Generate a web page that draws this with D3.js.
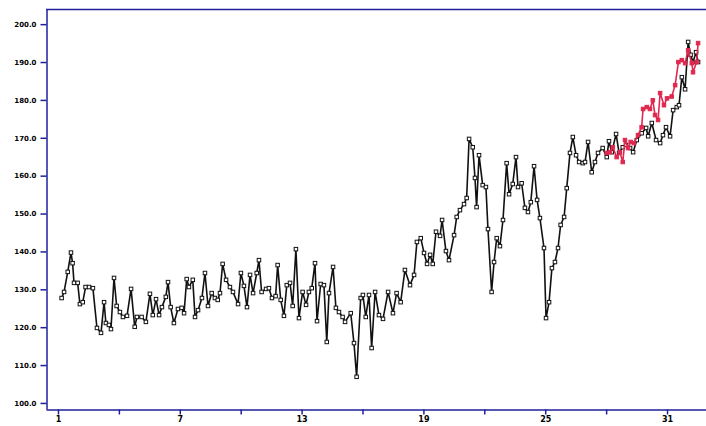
<!DOCTYPE html>
<html>
<head>
<meta charset="utf-8">
<script src="https://cdn.jsdelivr.net/npm/d3@7"></script>
<style>
  html, body { margin: 0; padding: 0; background: #fff; }
  svg { display: block; }
</style>
</head>
<body>
<div id="chart"></div>
<script>
// periods (x) and values of the main series
const blackX = [1.18,1.30,1.48,1.64,1.72,1.79,1.97,2.08,2.22,2.36,2.53,2.72,2.92,3.12,3.27,3.36,3.51,3.61,3.76,3.89,
  4.05,4.20,4.40,4.60,4.78,4.89,5.12,5.33,5.53,5.67,5.83,5.98,6.12,6.31,6.42,6.55,6.71,6.91,7.09,7.21,
  7.34,7.45,7.64,7.75,7.90,8.09,8.24,8.39,8.57,8.73,8.87,8.98,9.11,9.28,9.47,9.62,9.87,10.01,10.16,10.31,
  10.46,10.61,10.79,10.90,11.03,11.25,11.39,11.54,11.72,11.82,11.97,12.13,12.27,12.43,12.56,12.72,12.87,13.05,13.22,13.36,
  13.50,13.66,13.76,13.94,14.10,14.24,14.35,14.55,14.69,14.84,15.02,15.14,15.42,15.58,15.71,15.91,16.02,16.16,16.32,16.45,
  16.62,16.81,17.01,17.26,17.50,17.68,17.88,18.09,18.34,18.54,18.68,18.87,19.03,19.18,19.33,19.46,19.62,19.82,19.92,20.11,
  20.26,20.51,20.64,20.80,21.00,21.13,21.25,21.43,21.54,21.62,21.74,21.92,22.08,22.18,22.36,22.48,22.61,22.77,22.92,23.10,
  23.22,23.40,23.56,23.66,23.84,24.00,24.15,24.29,24.45,24.60,24.74,24.94,25.04,25.19,25.33,25.48,25.63,25.76,25.93,26.06,
  26.22,26.36,26.52,26.67,26.85,26.96,27.11,27.29,27.45,27.60,27.83,28.03,28.14,28.28,28.49,28.64,28.82,28.98,29.18,29.33,
  29.51,29.75,29.97,30.07,30.25,30.46,30.66,30.80,30.95,31.15,31.30,31.48,31.59,31.73,31.89,32.04,32.16,32.28,32.43,32.53];
const blackY = [127.7,129.3,134.6,139.7,136.9,131.7,131.7,126.1,126.6,130.6,130.6,130.3,119.8,118.5,126.6,121.1,120.6,119.5,133.0,125.6,
  124.0,122.7,123.0,130.1,120.1,122.7,122.7,121.4,128.8,123.2,127.4,123.2,125.3,128.0,131.9,125.3,121.1,124.8,125.1,123.7,
  132.7,130.6,132.5,122.7,124.5,127.7,134.3,125.6,129.0,127.7,127.2,129.0,136.7,132.5,130.6,129.3,126.1,134.3,130.9,125.3,
  133.8,129.0,134.3,137.7,129.3,130.1,130.3,127.7,128.2,136.4,127.2,123.0,131.1,131.7,125.6,140.6,122.4,129.3,125.9,129.3,
  130.3,136.9,121.6,131.4,131.1,116.1,129.0,135.9,125.1,124.0,122.7,121.4,123.7,115.8,106.9,127.7,128.5,122.7,128.5,114.5,
  129.3,123.2,122.2,129.3,123.7,129.0,126.6,135.1,131.1,133.8,142.5,143.5,139.6,136.7,139.1,136.7,145.2,144.1,148.3,140.1,
  137.7,144.3,149.1,150.9,152.5,154.1,169.7,167.5,159.4,151.7,165.4,157.5,157.0,145.9,129.3,137.2,143.5,141.4,148.3,163.3,
  155.1,157.8,164.9,157.0,158.0,151.5,150.4,153.0,162.5,153.6,148.8,140.9,122.4,126.6,135.6,137.2,140.9,147.0,149.1,156.7,
  166.0,170.2,165.4,163.6,163.3,163.6,168.9,160.9,163.6,166.0,167.3,164.9,169.1,166.2,171.0,166.0,167.5,168.1,167.3,166.2,
  169.4,171.2,172.6,170.4,173.9,169.4,168.6,170.7,172.8,170.4,177.3,178.1,178.6,186.0,182.8,195.3,191.9,190.0,192.6,190.0];

// second (red) series, end of the period only
const redX = [28.03,28.19,28.33,28.52,28.68,28.82,28.93,29.08,29.21,29.37,29.57,29.75,29.82,30.00,30.16,30.30,
  30.41,30.56,30.66,30.85,31.00,31.23,31.40,31.56,31.73,31.89,32.04,32.22,32.28,32.46,32.53];
const redY = [166.0,166.2,167.5,164.9,166.2,163.6,169.4,167.3,168.9,168.6,170.7,172.8,177.6,178.1,177.6,179.9,
  176.0,174.7,181.8,178.6,180.4,180.9,183.9,190.0,190.5,189.7,193.1,189.7,187.3,190.0,195.0];

const yTicks = [100,110,120,130,140,150,160,170,180,190,200];
const xTicksMajor = [1,7,13,19,25,31];
const xTicksMinor = [4,10,16,22,28];

const width = 706, height = 426;
const axisColor = "#1f1f9c";

const svg = d3.select("#chart").append("svg")
  .attr("width", width)
  .attr("height", height);

const x = d3.scaleLinear().domain([0.41, 32.92]).range([46, 706]);
const y = d3.scaleLinear().domain([98.4, 204.0]).range([409, 9]);

// frame: top, left, bottom
svg.append("line").attr("x1", 46).attr("x2", 706).attr("y1", 9.5).attr("y2", 9.5)
  .attr("stroke", axisColor).attr("stroke-width", 1.5);

const yAxis = svg.append("g")
  .attr("transform", "translate(46.5,0)")
  .call(d3.axisLeft(y).tickValues(yTicks).tickSize(6).tickSizeOuter(0).tickFormat(d3.format(".1f")));
yAxis.select(".domain").attr("stroke", axisColor).attr("stroke-width", 1.5);
yAxis.selectAll(".tick line").attr("stroke", axisColor).attr("stroke-width", 1.5);
yAxis.selectAll(".tick text")
  .attr("fill", "#000").attr("font-size", 7).attr("font-weight", "bold")
  .attr("font-family", "DejaVu Sans, sans-serif").attr("x", -10);

const xAxis = svg.append("g")
  .attr("transform", "translate(0,409.5)")
  .call(d3.axisBottom(x).tickValues(xTicksMajor.concat(xTicksMinor)).tickSize(5).tickSizeOuter(0)
    .tickFormat(d => xTicksMajor.includes(d) ? d : ""));
xAxis.select(".domain").attr("stroke", axisColor).attr("stroke-width", 1.5);
xAxis.selectAll(".tick line").attr("stroke", axisColor).attr("stroke-width", 1.5);
xAxis.selectAll(".tick text")
  .attr("fill", "#000").attr("font-size", 8).attr("font-weight", "bold")
  .attr("font-family", "DejaVu Sans, sans-serif").attr("y", 7);

const line = d3.line().x(d => x(d[0])).y(d => y(d[1]));

const blackData = d3.zip(blackX, blackY);
const redData = d3.zip(redX, redY);

function drawSeries(data, color, fill) {
  svg.append("path")
    .datum(data)
    .attr("d", line)
    .attr("fill", "none")
    .attr("stroke", color)
    .attr("stroke-width", 1.6)
    .attr("stroke-linejoin", "round");

  svg.append("g").selectAll("rect")
    .data(data)
    .enter()
    .append("rect")
    .attr("x", d => x(d[0]) - 1.75)
    .attr("y", d => y(d[1]) - 1.75)
    .attr("width", 3.5)
    .attr("height", 3.5)
    .attr("fill", fill)
    .attr("stroke", color)
    .attr("stroke-width", 1);
}

drawSeries(blackData, "#111", "#fff");
drawSeries(redData, "#e0284f", "#e0284f");
</script>
</body>
</html>
